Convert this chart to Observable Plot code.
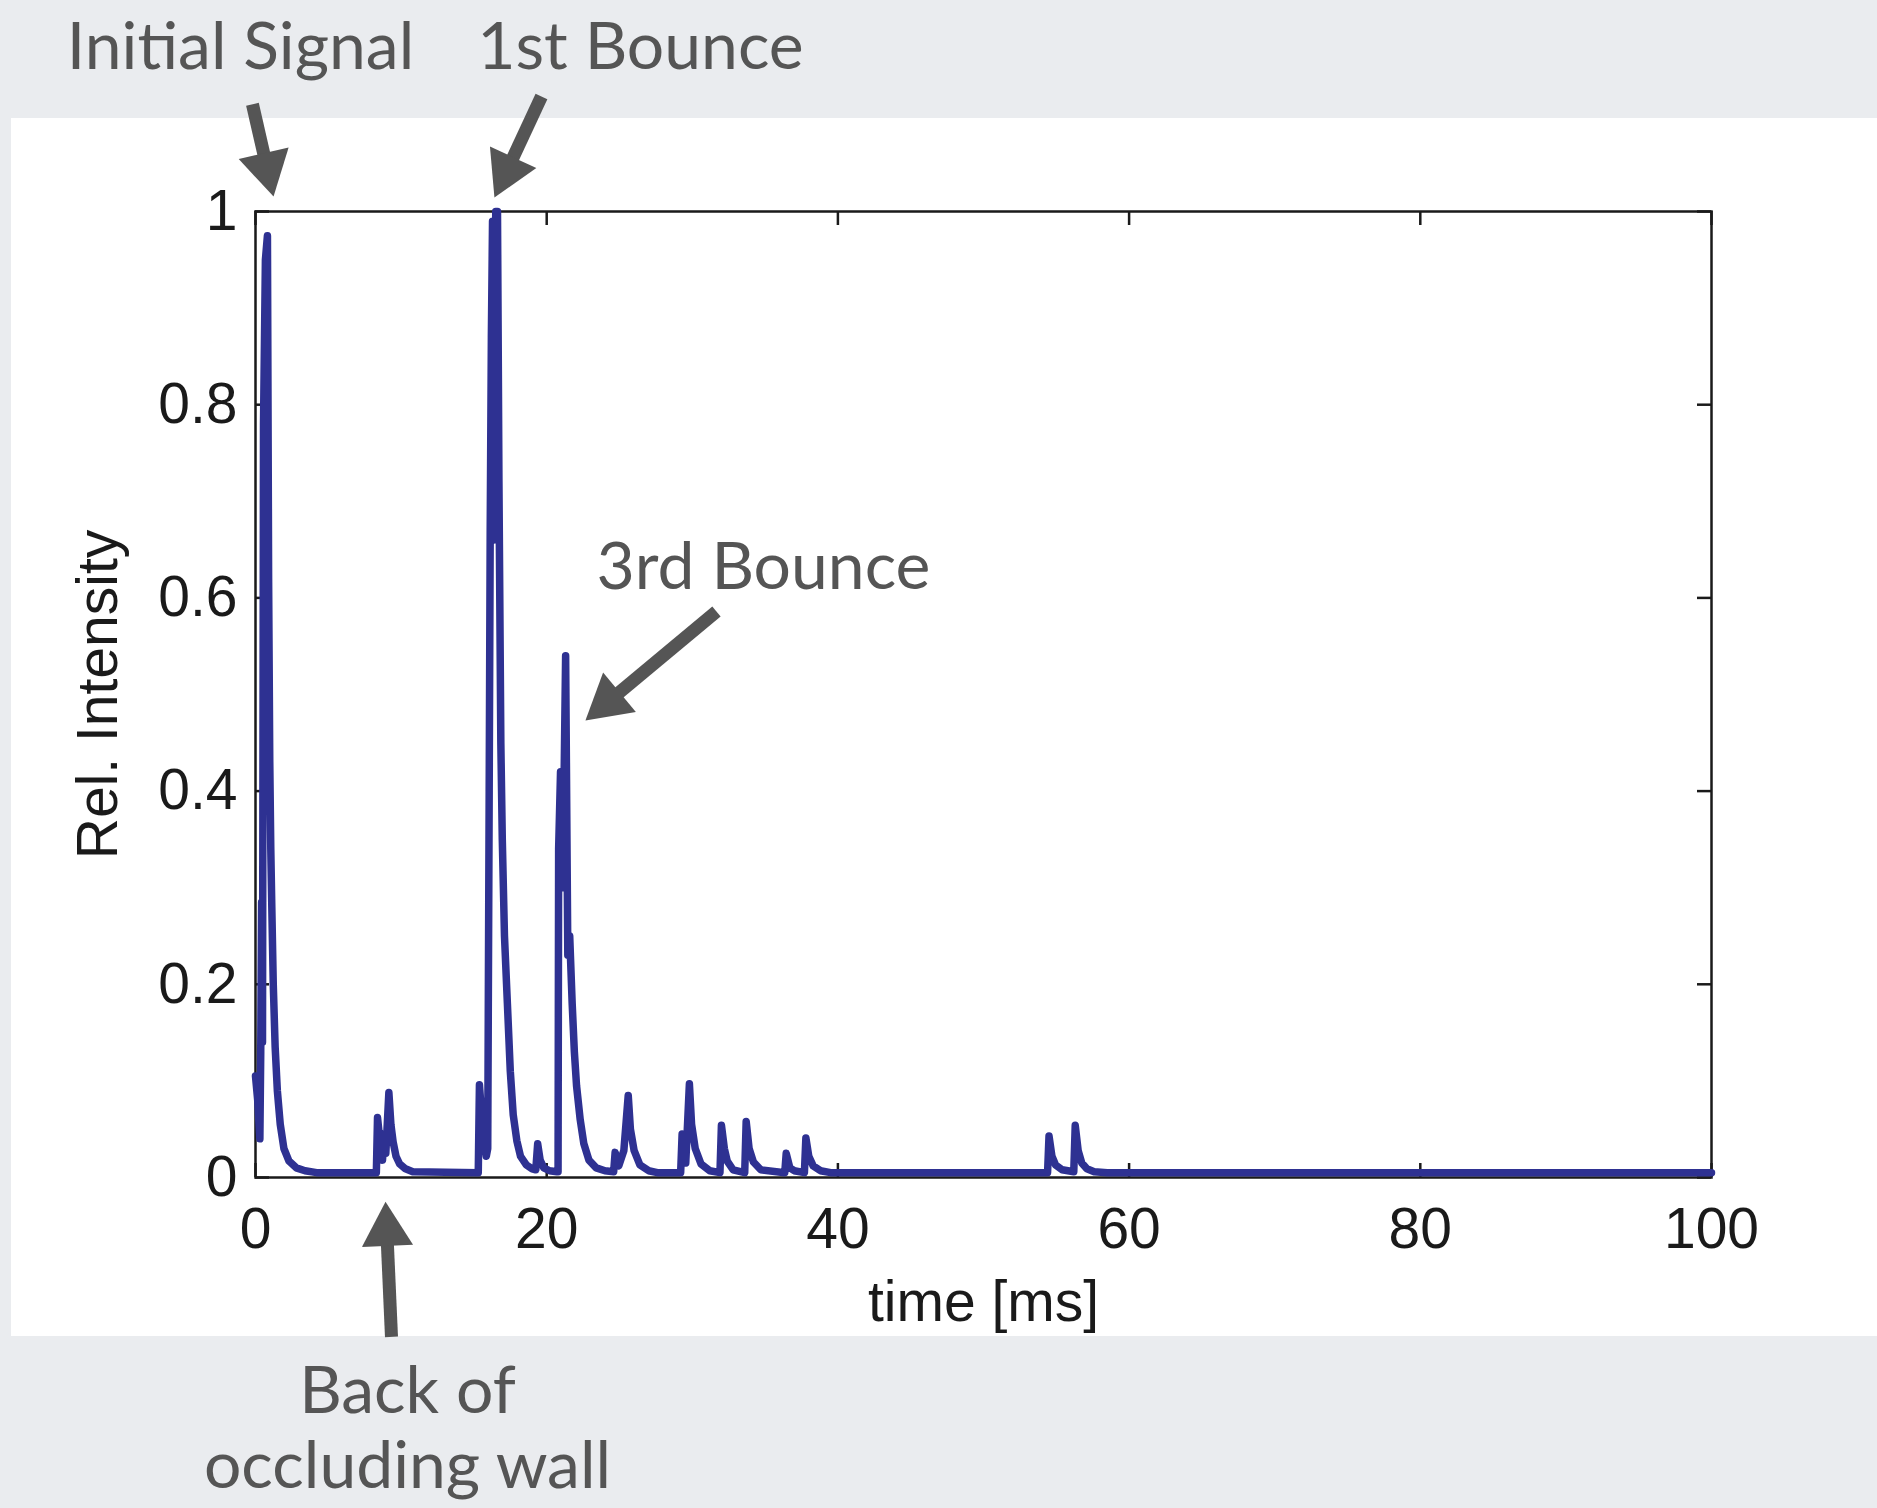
<!DOCTYPE html>
<html><head><meta charset="utf-8">
<script src="https://cdn.jsdelivr.net/npm/d3@7"></script>
<script src="https://cdn.jsdelivr.net/npm/@observablehq/plot@0.6"></script>
<style>
html,body{margin:0;padding:0;background:#eaecef;}
#page{position:relative;width:1877px;height:1508px;overflow:hidden;}
#panel{position:absolute;left:11px;top:118px;width:1866px;height:1218px;background:#fff;}
#chart{position:absolute;left:0;top:0;}
</style></head><body><div id="page"><div id="panel"></div><div id="chart"></div></div>
<script>
// signal samples (time in ms, relative intensity)
const time = [
  0, 0.15, 0.3, 0.36, 0.42, 0.48, 0.55, 0.68, 0.82, 0.9, 0.98, 1.05, 1.12, 1.22, 1.35, 1.5, 1.7, 1.95, 2.3, 2.8, 3.4, 4.2,
  8.3, 8.38, 8.6, 8.72, 8.85, 8.95, 9.16, 9.3, 9.45, 9.65, 9.9, 10.3, 10.8,
  15.3, 15.38, 15.6, 15.85, 15.95, 16.05, 16.12, 16.2, 16.28, 16.36, 16.5, 16.62, 16.72, 16.85, 16.95, 17.1, 17.3, 17.5, 17.7, 17.95, 18.2, 18.6, 19.0, 19.25, 19.38, 19.55, 19.8, 20.2, 20.7,
  20.78, 20.82, 20.95, 21.1, 21.3, 21.45, 21.58, 21.75, 21.9, 22.05, 22.3, 22.55, 22.9, 23.4, 24.0, 24.6,
  24.7, 24.95, 25.3, 25.6, 25.75, 26.0, 26.4, 27.0, 27.6,
  29.2, 29.3, 29.55, 29.8, 29.95, 30.2, 30.6, 31.2, 31.9,
  32.0, 32.2, 32.4, 32.8, 33.6,
  33.7, 33.9, 34.2, 34.7, 36.35,
  36.45, 36.7, 37.0, 37.7,
  37.8, 38.0, 38.3, 38.8, 39.5,
  54.4, 54.5, 54.7, 54.95, 55.4, 56.2, 56.3, 56.5, 56.75, 57.1, 57.6, 58.5, 100
];
const intensity = [
  0.105, 0.08, 0.04, 0.13, 0.285, 0.14, 0.78, 0.95, 0.975, 0.62, 0.43, 0.34, 0.28, 0.2, 0.135, 0.09, 0.055, 0.03, 0.017, 0.01, 0.007, 0.005,
  0.005, 0.062, 0.03, 0.018, 0.045, 0.025, 0.088, 0.055, 0.037, 0.022, 0.014, 0.009, 0.006,
  0.005, 0.096, 0.05, 0.022, 0.03, 0.4, 0.67, 0.87, 0.99, 0.66, 1.0, 1.0, 0.72, 0.45, 0.35, 0.25, 0.18, 0.11, 0.065, 0.038, 0.022, 0.013, 0.009, 0.008, 0.035, 0.018, 0.01, 0.007, 0.006,
  0.006, 0.34, 0.42, 0.3, 0.54, 0.23, 0.25, 0.18, 0.13, 0.095, 0.06, 0.035, 0.018, 0.01, 0.007, 0.006,
  0.026, 0.012, 0.028, 0.085, 0.05, 0.028, 0.013, 0.007, 0.005,
  0.005, 0.045, 0.015, 0.097, 0.055, 0.03, 0.014, 0.007, 0.005,
  0.054, 0.03, 0.017, 0.008, 0.005,
  0.058, 0.03, 0.016, 0.008, 0.005,
  0.025, 0.01, 0.007, 0.005,
  0.041, 0.022, 0.012, 0.007, 0.005,
  0.005, 0.043, 0.022, 0.013, 0.008, 0.006, 0.054, 0.028, 0.015, 0.009, 0.006, 0.005, 0.005
];
const xTicks = [0, 20, 40, 60, 80, 100];
const yTicks = [0, 0.2, 0.4, 0.6, 0.8, 1];
const xLabel = "time [ms]";
const yLabel = "Rel. Intensity";
// annotations (in data units)
const noteText = ["Initial Signal", "1st Bounce", "3rd Bounce", "Back of", "occluding wall"];
const noteX = [-1.03, 26.44, 34.89, 10.44, 10.44];
const noteY = [1.148, 1.148, 0.609, -0.2443, -0.3219];
const arrowX1 = [-0.21, 19.64, 31.66, 9.34];
const arrowY1 = [1.111, 1.119, 0.586, -0.165];
const arrowX2 = [1.24, 16.41, 22.66, 8.93];
const arrowY2 = [1.0155, 1.0145, 0.473, -0.025];

const W = 1877, H = 1508, mL = 255, mR = 166, mT = 211, mB = 331;
const xDomain = [0, 100], yDomain = [0, 1];
const sx = Plot.scale({x: {domain: xDomain, range: [mL, W - mR]}});
const sy = Plot.scale({y: {domain: yDomain, range: [H - mB, mT]}});
const headR = 19;
const k = headR * Math.sqrt(Math.PI / (3 * Math.sqrt(3)));
const arrows = arrowX1.map((_, i) => {
  const px1 = sx.apply(arrowX1[i]), py1 = sy.apply(arrowY1[i]);
  const px2 = sx.apply(arrowX2[i]), py2 = sy.apply(arrowY2[i]);
  const L = Math.hypot(px2 - px1, py2 - py1);
  const ux = (px2 - px1) / L, uy = (py2 - py1) / L;
  const f = 1 - 2 * k / L;
  return {
    x1: arrowX1[i], y1: arrowY1[i],
    x2: arrowX1[i] + (arrowX2[i] - arrowX1[i]) * f,
    y2: arrowY1[i] + (arrowY2[i] - arrowY1[i]) * f,
    angle: Math.atan2(ux, -uy) * 180 / Math.PI
  };
});
const signal = time.map((t, i) => ({t, v: intensity[i]}));
const notes = noteText.map((s, i) => ({s, x: noteX[i], y: noteY[i]}));
const ink = "#1a1a1a", annoInk = "#555555";

const chart = Plot.plot({
  width: W, height: H,
  marginLeft: mL, marginRight: mR, marginTop: mT, marginBottom: mB,
  style: {background: "transparent", fontFamily: "'Liberation Sans', Arial, sans-serif", overflow: "visible"},
  x: {domain: xDomain, axis: null},
  y: {domain: yDomain, axis: null},
  marks: [
    Plot.axisX({ticks: xTicks, tickSize: 0, tickPadding: 30, fontSize: 57, label: null, tickFormat: d => String(d), color: ink}),
    Plot.axisY({ticks: yTicks, tickSize: 0, tickPadding: 18, fontSize: 57, label: null, tickFormat: d => String(d), color: ink}),
    Plot.ruleY(yTicks, {y: d => d, x1: 0, x2: 0, insetRight: -14, stroke: ink, strokeWidth: 2.5}),
    Plot.ruleY(yTicks, {y: d => d, x1: 100, x2: 100, insetLeft: -14, stroke: ink, strokeWidth: 2.5}),
    Plot.ruleX(xTicks, {x: d => d, y1: 0, y2: 0, insetTop: -14, stroke: ink, strokeWidth: 2.5}),
    Plot.ruleX(xTicks, {x: d => d, y1: 1, y2: 1, insetBottom: -14, stroke: ink, strokeWidth: 2.5}),
    Plot.frame({stroke: ink, strokeWidth: 2.5}),
    Plot.line(signal, {x: "t", y: "v", stroke: "#2e3192", strokeWidth: 7.5, strokeLinejoin: "round", strokeLinecap: "round"}),
    Plot.text([xLabel], {frameAnchor: "bottom", dy: 143, lineAnchor: "bottom", text: d => d, fontSize: 57, fill: ink}),
    Plot.text([yLabel], {frameAnchor: "left", dx: -139, rotate: -90, lineAnchor: "bottom", textAnchor: "middle", text: d => d, fontSize: 57, fill: ink}),
    Plot.link(arrows, {x1: "x1", y1: "y1", x2: "x2", y2: "y2", stroke: annoInk, strokeWidth: 13, strokeLinecap: "butt"}),
    Plot.dot(arrows, {x: "x2", y: "y2", symbol: "triangle", r: headR, rotate: "angle", fill: annoInk, stroke: null}),
    Plot.text(notes, {x: "x", y: "y", text: "s", lineAnchor: "bottom", textAnchor: "middle", fontSize: 66, fontFamily: "Lato, 'Open Sans', sans-serif", fill: annoInk})
  ]
});
document.getElementById("chart").appendChild(chart);
</script></body></html>
